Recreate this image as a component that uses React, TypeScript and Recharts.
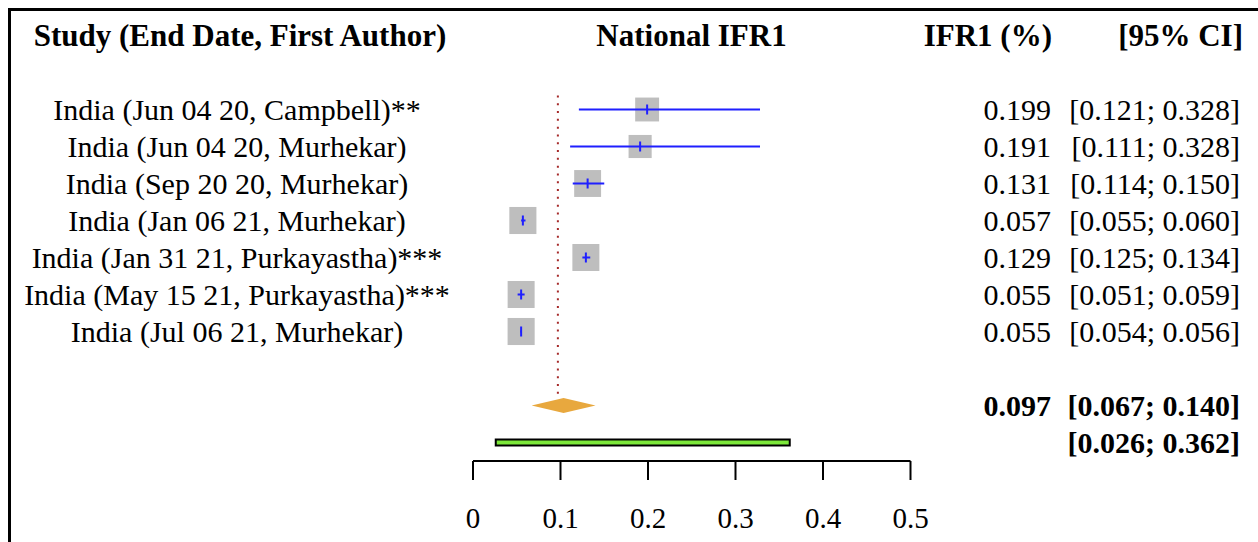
import React from "react";
import {
  ScatterChart,
  Scatter,
  XAxis,
  YAxis,
  ErrorBar,
  ReferenceLine,
  ReferenceArea,
} from "recharts";

// studies, top to bottom
const studies = [
  "India (Jun 04 20, Campbell)**",
  "India (Jun 04 20, Murhekar)",
  "India (Sep 20 20, Murhekar)",
  "India (Jan 06 21, Murhekar)",
  "India (Jan 31 21, Purkayastha)***",
  "India (May 15 21, Purkayastha)***",
  "India (Jul 06 21, Murhekar)",
];
const estimates = [0.199, 0.191, 0.131, 0.057, 0.129, 0.055, 0.055];
const lowerCI = [0.121, 0.111, 0.114, 0.055, 0.125, 0.051, 0.054];
const upperCI = [0.328, 0.328, 0.15, 0.06, 0.134, 0.059, 0.056];
// estimated study weights (%), drive the grey square size
const weights = [12.0, 11.2, 15.2, 15.4, 15.3, 15.3, 15.4];

const pooled = [0.097, 0.067, 0.14]; // estimate, lower, upper
const predictionInterval = [0.026, 0.362];
const xTicks = [0, 0.1, 0.2, 0.3, 0.4, 0.5];
const headers = ["Study (End Date, First Author)", "National IFR1", "IFR1 (%)", "[95% CI]"];

const HEADER_ROW = -2;
const POOLED_ROW = 8;
const PRED_ROW = 9;

const FONT = "'Liberation Serif', 'Times New Roman', Times, serif";

const studyData = studies.map((name, i) => ({
  name,
  x: estimates[i],
  y: i,
  w: weights[i],
  err: [estimates[i] - lowerCI[i], upperCI[i] - estimates[i]],
}));

const fmt = (v: number) => v.toFixed(3);

const RowTick = (props: any) => {
  const { y, payload } = props;
  const row = payload.value as number;
  const base = { fontFamily: FONT, fontSize: 30, fill: "#000", dy: "0.34em" };
  if (row === HEADER_ROW) {
    const hb = { ...base, fontSize: 31 };
    return (
      <g fontWeight="bold">
        <text {...hb} x={229} y={y} textAnchor="middle">{headers[0]}</text>
        <text {...hb} x={680.5} y={y} textAnchor="middle">{headers[1]}</text>
        <text {...hb} x={1041} y={y} textAnchor="end">{headers[2]}</text>
        <text {...hb} x={1232} y={y} textAnchor="end">{headers[3]}</text>
      </g>
    );
  }
  if (row === POOLED_ROW) {
    return (
      <g fontWeight="bold">
        <text {...base} x={1040} y={y} textAnchor="end">{fmt(pooled[0])}</text>
        <text {...base} x={1229} y={y} textAnchor="end">
          {`[${fmt(pooled[1])}; ${fmt(pooled[2])}]`}
        </text>
      </g>
    );
  }
  if (row === PRED_ROW) {
    return (
      <g fontWeight="bold">
        <text {...base} x={1229} y={y} textAnchor="end">
          {`[${fmt(predictionInterval[0])}; ${fmt(predictionInterval[1])}]`}
        </text>
      </g>
    );
  }
  const i = row;
  if (i < 0 || i >= studies.length) return null;
  return (
    <g>
      <text {...base} x={226} y={y} textAnchor="middle">{studies[i]}</text>
      <text {...base} x={1040} y={y} textAnchor="end">{fmt(estimates[i])}</text>
      <text {...base} x={1229} y={y} textAnchor="end">
        {`[${fmt(lowerCI[i])}; ${fmt(upperCI[i])}]`}
      </text>
    </g>
  );
};

const WeightSquare = (props: any) => {
  const { cx, cy, payload } = props;
  const s = 6.9 * Math.sqrt(payload.w);
  return <rect x={cx - s / 2} y={cy - s / 2} width={s} height={s} fill="#bebebe" />;
};

const EstimateTick = (props: any) => {
  const { cx, cy } = props;
  return <line x1={cx} x2={cx} y1={cy - 5} y2={cy + 5} stroke="#1f1fff" strokeWidth={2} />;
};

const Diamond = (props: any) => {
  const { x, y, width, height } = props;
  const pts = [
    [x, y + height / 2],
    [x + width / 2, y],
    [x + width, y + height / 2],
    [x + width / 2, y + height],
  ]
    .map((p) => p.join(","))
    .join(" ");
  return <polygon points={pts} fill="#e8a83e" stroke="none" />;
};

const PredBar = (props: any) => {
  const { x, y, width, height } = props;
  return <rect x={x} y={y} width={width} height={height} fill="#7ce83a" stroke="#000" strokeWidth={2} />;
};

export default function App() {
  return (
    <div
      style={{
        position: "fixed",
        left: 8,
        top: 8,
        width: 1247,
        height: 531,
        borderTop: "3px solid #000",
        borderLeft: "3px solid #000",
        background: "#fff",
      }}
    >
      <ScatterChart width={1247} height={531} margin={{ top: 6, right: 347.5, bottom: 0, left: 0 }}>
        <XAxis
          type="number"
          dataKey="x"
          domain={[0, 0.5]}
          ticks={xTicks}
          tickFormatter={(v) => String(v)}
          height={81}
          axisLine={{ stroke: "#000", strokeWidth: 2 }}
          tickLine={{ stroke: "#000", strokeWidth: 2 }}
          tickSize={19}
          tickMargin={27}
          tick={{ fill: "#000", fontSize: 29, fontFamily: FONT }}
          allowDataOverflow
        />
        <YAxis
          type="number"
          dataKey="y"
          domain={[-2.5, 9.5]}
          reversed
          ticks={[HEADER_ROW, 0, 1, 2, 3, 4, 5, 6, POOLED_ROW, PRED_ROW]}
          interval={0}
          width={462}
          axisLine={false}
          tickLine={false}
          tick={<RowTick />}
          allowDataOverflow
        />
        <ReferenceLine
          segment={[
            { x: pooled[0], y: -0.38 },
            { x: pooled[0], y: POOLED_ROW - 0.2 },
          ]}
          stroke="#a52a2a"
          strokeWidth={2}
          strokeDasharray="2 5.8"
        />
        <Scatter data={studyData} shape={<WeightSquare />} isAnimationActive={false} zIndex={500} />
        <Scatter data={studyData} shape={<EstimateTick />} isAnimationActive={false} zIndex={700}>
          <ErrorBar dataKey="err" direction="x" width={0} stroke="#1f1fff" strokeWidth={2} zIndex={700} />
        </Scatter>
        <ReferenceArea
          x1={pooled[1]}
          x2={pooled[2]}
          y1={POOLED_ROW - 0.2}
          y2={POOLED_ROW + 0.2}
          shape={<Diamond />}
        />
        <ReferenceArea
          x1={predictionInterval[0]}
          x2={predictionInterval[1]}
          y1={PRED_ROW - 0.081}
          y2={PRED_ROW + 0.081}
          shape={<PredBar />}
        />
      </ScatterChart>
    </div>
  );
}
